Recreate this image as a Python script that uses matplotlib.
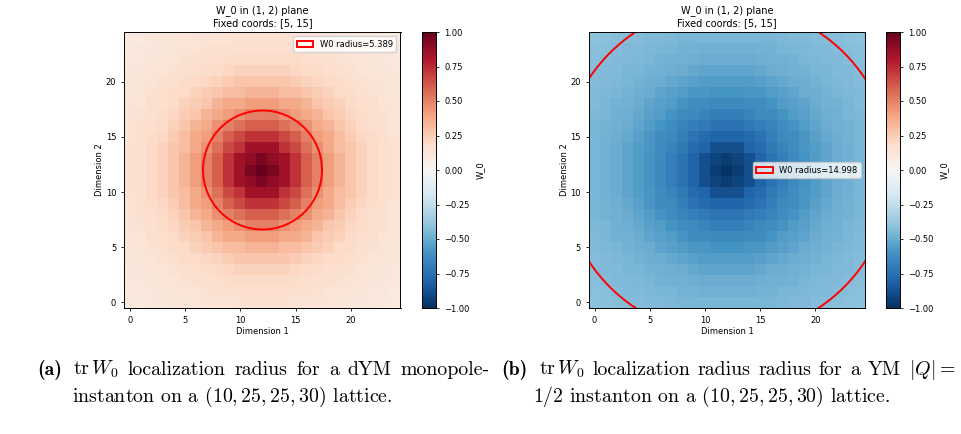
import numpy as np
import matplotlib.pyplot as plt
from matplotlib.patches import Circle

plt.rcParams['mathtext.fontset'] = 'cm'

# ------------------------------------------------------------
# Data
# ------------------------------------------------------------
GRID_N = 25
CENTER = (12, 12)

# W_0 value vs distance from the centre cell, in steps of 0.5 (0, 0.5, ..., 17)
PROFILE_A = [1.00, 0.98, 0.94, 0.89, 0.84, 0.78, 0.72, 0.66, 0.60, 0.55,
             0.50, 0.46, 0.42, 0.38, 0.34, 0.31, 0.28, 0.25, 0.23, 0.21,
             0.19, 0.18, 0.17, 0.16, 0.15, 0.14, 0.13, 0.13, 0.12, 0.12,
             0.11, 0.11, 0.10, 0.10, 0.10]
PROFILE_B = [-0.98, -0.97, -0.95, -0.92, -0.88, -0.84, -0.80, -0.77, -0.74, -0.71,
             -0.68, -0.66, -0.64, -0.62, -0.60, -0.58, -0.56, -0.545, -0.53, -0.515,
             -0.50, -0.49, -0.48, -0.47, -0.46, -0.455, -0.45, -0.445, -0.44, -0.435,
             -0.43, -0.425, -0.42, -0.415, -0.41]

RADIUS_A = 5.389
RADIUS_B = 14.998

TITLE = "W_0 in (1, 2) plane\nFixed coords: [5, 15]"
TICKS = [0, 5, 10, 15, 20]
CBAR_TICKS = [-1.0, -0.75, -0.5, -0.25, 0.0, 0.25, 0.5, 0.75, 1.0]

FIG_W, FIG_H = 962, 434


def grid_from_profile(profile):
    ii, jj = np.meshgrid(np.arange(GRID_N), np.arange(GRID_N))
    dist = np.hypot(ii - CENTER[0], jj - CENTER[1])
    idx = np.rint(2 * dist).astype(int)
    return np.array(profile)[idx]


def px_rect(x0, y0, x1, y1):
    return [x0 / FIG_W, 1 - y1 / FIG_H, (x1 - x0) / FIG_W, (y1 - y0) / FIG_H]


def draw_panel(fig, ax_rect, cb_rect, profile, radius, legend_loc):
    ax = fig.add_axes(ax_rect)
    cax = fig.add_axes(cb_rect)
    data = grid_from_profile(profile)
    im = ax.imshow(data, origin='lower', cmap='RdBu_r', vmin=-1, vmax=1)
    circ = Circle(CENTER, radius, fill=False, edgecolor='red', linewidth=1.4,
                  label=f"W0 radius={radius:.3f}")
    ax.add_patch(circ)
    ax.legend(loc=legend_loc, fontsize=6, handlelength=2.0, borderpad=0.4)
    ax.set_title(TITLE, fontsize=7, pad=4, linespacing=1.25)
    ax.set_xticks(TICKS)
    ax.set_yticks(TICKS)
    ax.tick_params(labelsize=6, length=2.5, width=0.6)
    ax.set_xlabel("Dimension 1", fontsize=6, labelpad=1)
    ax.set_ylabel("Dimension 2", fontsize=6, labelpad=1)
    for s in ax.spines.values():
        s.set_linewidth(0.7)

    cb = fig.colorbar(im, cax=cax)
    cb.set_ticks(CBAR_TICKS)
    cb.ax.set_yticklabels([f"{t:.2f}".replace("-", "\u2212") for t in CBAR_TICKS])
    cb.ax.tick_params(labelsize=6, length=2.5, width=0.6)
    cb.outline.set_linewidth(0.7)
    cb.set_label("W_0", fontsize=6, labelpad=4)


fig = plt.figure(figsize=(FIG_W / 100, FIG_H / 100), dpi=100)

draw_panel(fig, px_rect(124, 32, 401, 308), px_rect(422, 32, 436, 308),
           PROFILE_A, RADIUS_A, "upper right")
draw_panel(fig, px_rect(588, 32, 866, 308), px_rect(886, 32, 900, 308),
           PROFILE_B, RADIUS_B, "center right")

# ------------------------------------------------------------
# captions (LaTeX-like, first line justified)
# ------------------------------------------------------------
CAP_SIZE = 14.3
renderer = fig.canvas.get_renderer()


def cap(x, y, s, bold=False):
    return fig.text(x / FIG_W, 1 - y / FIG_H, s, fontsize=CAP_SIZE,
                    family='cmb10' if bold else 'cmr10', va='baseline', ha='left')


def justified(x0, x1, y, s):
    words = [cap(x0, y, w) for w in s.split(" ")]
    widths = [w.get_window_extent(renderer).width for w in words]
    gap = (x1 - x0 - sum(widths)) / (len(words) - 1)
    x = x0
    for w, wd in zip(words, widths):
        w.set_x(x / FIG_W)
        x += wd + gap


LINE1_Y, LINE2_Y = 375, 402

cap(37, LINE1_Y, "(a)", bold=True)
justified(73, 490, LINE1_Y, r"$\mathrm{tr}\,W_0$ localization radius for a dYM monopole-")
cap(72, LINE2_Y, r"instanton on a $(10,25,25,30)$ lattice.")

cap(501, LINE1_Y, "(b)", bold=True)
justified(539, 955, LINE1_Y, r"$\mathrm{tr}\,W_0$ localization radius radius for a YM $|Q|=$")
cap(533, LINE2_Y, r"$1/2$ instanton on a $(10,25,25,30)$ lattice.")

fig.savefig("out.png", dpi=100)
